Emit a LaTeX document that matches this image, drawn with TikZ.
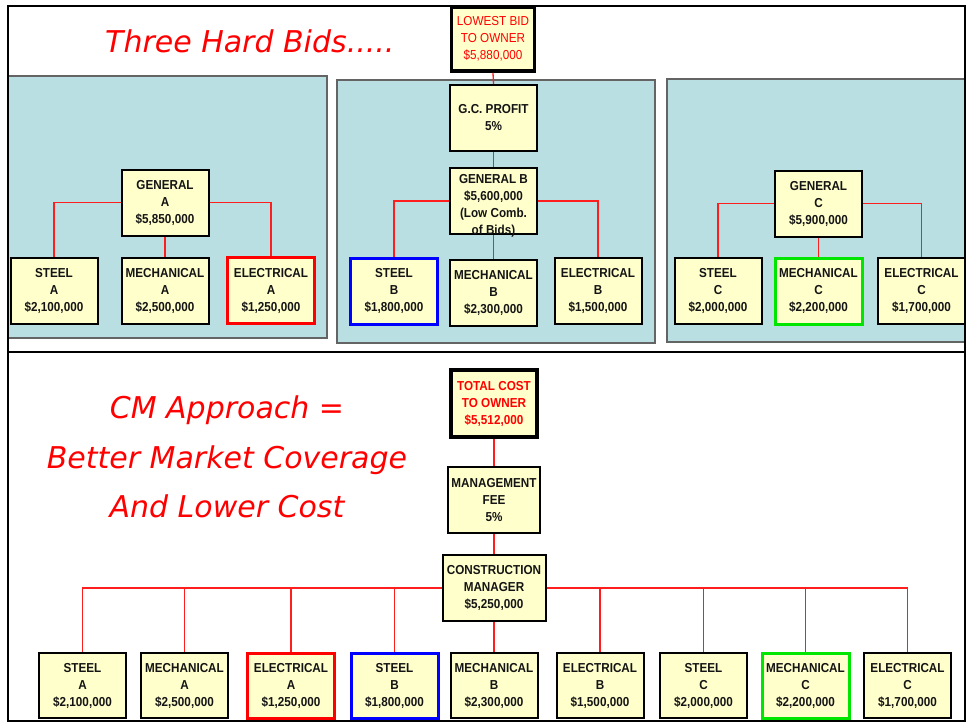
\documentclass[tikz,border=0pt]{standalone}
\usepackage{fontspec}
\setmainfont{Liberation Sans}
\newfontfamily\boxfont[FakeStretch=0.9]{Liberation Sans}
\newfontfamily\titlefont{DejaVu Sans}
\definecolor{boxfill}{RGB}{255,255,204}
\definecolor{panelfill}{RGB}{186,223,227}
\definecolor{panelline}{RGB}{100,100,100}
\definecolor{boxtxt}{RGB}{20,20,20}
\definecolor{hired}{RGB}{255,0,0}
\definecolor{linered}{RGB}{255,30,30}
\definecolor{hiblue}{RGB}{0,0,255}
\definecolor{higreen}{RGB}{0,230,0}
\begin{document}
\begin{tikzpicture}[x=1pt,y=-1pt,
  box/.style={draw=black, line width=2pt, fill=boxfill, minimum width=87pt, minimum height=66pt,
    inner sep=0pt, align=center, font=\boxfont\fontsize{13}{17}\selectfont\bfseries, text=boxtxt},
  thickbox/.style={box, line width=3.5pt},
  redbox/.style={box, draw=hired, line width=3pt},
  bluebox/.style={box, draw=hiblue, line width=3pt},
  greenbox/.style={box, draw=higreen, line width=3pt},
  boxtext/.style={inner sep=0pt, align=center, font=\boxfont\fontsize{13}{17}\selectfont\bfseries, text=boxtxt},
  conn/.style={draw=linered, line width=1.3pt},
  panel/.style={fill=panelfill, draw=panelline, line width=1.5pt},
  bigtitle/.style={text=hired, font=\titlefont\itshape\fontsize{30}{36}\selectfont, inner sep=0pt},
  frameline/.style={draw=black, line width=2.5pt}
]
\useasboundingbox (0,0) rectangle (969,723);

% panels
\path[panel] (8,76) rectangle (327,338);
\path[panel] (337,80) rectangle (655,343);
\path[panel] (667,79) rectangle (965,342);

% titles
\node[bigtitle, anchor=base west] (t1) at (105,52) {Three Hard Bids.....};
\node[bigtitle, anchor=base] (t2) at (227,418) {CM Approach =};
\node[bigtitle, anchor=base] (t3) at (227,468) {Better Market Coverage};
\node[bigtitle, anchor=base] (t4) at (227,517) {And Lower Cost};

% top section boxes
\node[thickbox, minimum width=83pt, minimum height=64pt, text=hired, font=\boxfont\fontsize{13}{17}\selectfont] (lb) at (493,39) {LOWEST BID\\TO OWNER\\\$5,880,000};
\node[box] (gc) at (493.5,118) {G.C. PROFIT\\5\%};
\node[box] (gb) at (493.5,201) {};
\node[bluebox] (sb) at (394,291) {STEEL\\B\\\$1,800,000};
\node[box] (mb) at (493.5,292.5) {MECHANICAL\\B\\\$2,300,000};
\node[box] (eb) at (598,290.5) {ELECTRICAL\\B\\\$1,500,000};

\node[box] (ga) at (165,202.5) {GENERAL\\A\\\$5,850,000};
\node[box] (sa) at (54,290.5) {STEEL\\A\\\$2,100,000};
\node[box] (ma) at (165,290.5) {MECHANICAL\\A\\\$2,500,000};
\node[redbox] (ea) at (271,290.5) {ELECTRICAL\\A\\\$1,250,000};

\node[box] (gcc) at (818.5,203.5) {GENERAL\\C\\\$5,900,000};
\node[box] (sc) at (718,291) {STEEL\\C\\\$2,000,000};
\node[greenbox] (mc) at (818.5,291) {MECHANICAL\\C\\\$2,200,000};
\node[box] (ec) at (921.5,291) {ELECTRICAL\\C\\\$1,700,000};

% bottom section boxes
\node[thickbox, minimum width=86pt, minimum height=67pt, text=hired] (tc) at (494,403.5) {TOTAL COST\\TO OWNER\\\$5,512,000};
\node[box, minimum width=92pt] (mf) at (494,500) {MANAGEMENT\\FEE\\5\%};
\node[box, minimum width=103pt] (cm) at (494,588) {CONSTRUCTION\\MANAGER\\\$5,250,000};

\node[box, minimum height=65pt] (r1) at (82.5,685.5) {STEEL\\A\\\$2,100,000};
\node[box, minimum height=65pt] (r2) at (184.5,685.5) {MECHANICAL\\A\\\$2,500,000};
\node[redbox, minimum height=65pt] (r3) at (291,685.5) {ELECTRICAL\\A\\\$1,250,000};
\node[bluebox, minimum height=65pt] (r4) at (394.5,685.5) {STEEL\\B\\\$1,800,000};
\node[box, minimum height=65pt] (r5) at (494,685.5) {MECHANICAL\\B\\\$2,300,000};
\node[box, minimum height=65pt] (r6) at (600,685.5) {ELECTRICAL\\B\\\$1,500,000};
\node[box, minimum height=65pt] (r7) at (703.5,685.5) {STEEL\\C\\\$2,000,000};
\node[greenbox, minimum height=65pt] (r8) at (805.5,685.5) {MECHANICAL\\C\\\$2,200,000};
\node[box, minimum height=65pt] (r9) at (907.5,685.5) {ELECTRICAL\\C\\\$1,700,000};

% connectors
\draw[conn] (lb.south) -- (gc.north);
\draw[conn] (gc.south) -- (gb.north);
\draw[conn] (gb.west) -| (sb.north);
\draw[conn] (gb.east) -| (eb.north);
\draw[conn] (gb.south) -- (mb.north);
\draw[conn] (ga.west) -| (sa.north);
\draw[conn] (ga.east) -| (ea.north);
\draw[conn] (ga.south) -- (ma.north);
\draw[conn] (gcc.west) -| (sc.north);
\draw[conn] (gcc.east) -| (ec.north);
\draw[conn] (gcc.south) -- (mc.north);
\draw[conn] (tc.south) -- (mf.north);
\draw[conn] (mf.south) -- (cm.north);
\draw[conn] (cm.south) -- (r5.north);
\foreach \n in {r1,r2,r3,r4} \draw[conn] (cm.west) -| (\n.north);
\foreach \n in {r6,r7,r8,r9} \draw[conn] (cm.east) -| (\n.north);

% text of General B overflowing its box
\node[boxtext] (gbt) at (493.5,206) {GENERAL B\\\$5,600,000\\(Low Comb.\\of Bids)};

% frame
\draw[frameline] (8,6) rectangle (965,721);
\draw[frameline] (8,352) -- (965,352);
\end{tikzpicture}
\end{document}
